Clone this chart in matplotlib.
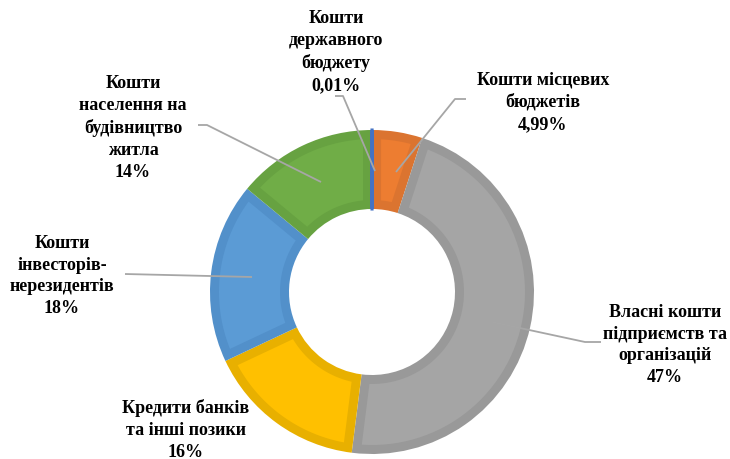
import matplotlib
matplotlib.use("Agg")
import numpy as np
from matplotlib import pyplot as plt
from matplotlib.patches import Polygon

# shares of investment sources, %, clockwise from 12 o'clock
categories = ["Кошти державного бюджету", "Кошти місцевих бюджетів",
              "Власні кошти підприємств та організацій",
              "Кредити банків та інші позики",
              "Кошти інвесторів-нерезидентів",
              "Кошти населення на будівництво житла"]
values = [0.01, 4.99, 47, 16, 18, 14]
label_texts = ["Кошти\nдержавного\nбюджету\n0,01%",
               "Кошти місцевих\nбюджетів\n4,99%",
               "Власні кошти\nпідприємств та\nорганізацій\n47%",
               "Кредити банків\nта інші позики\n16%",
               "Кошти\nінвесторів-\nнерезидентів\n18%",
               "Кошти\nнаселення на\nбудівництво\nжитла\n14%"]

fills = ["#4472C4", "#ED7D31", "#A5A5A5", "#FFC000", "#5B9BD5", "#70AD47"]
borders = ["#4472C4", "#DB7430", "#999999", "#E8B000", "#5290CA", "#67A241"]

W, H = 730, 460
def Y(y):
    # image pixel row -> data y
    return H - y

fig = plt.figure(figsize=(7.3, 4.6), dpi=100)
ax = fig.add_axes([0, 0, 1, 1])

cx, cy, r_out, r_in = 372, 293, 162, 83
b = 9  # border width in px

# darker ring = border colour, lighter inset = fill colour
wedges, _ = ax.pie(values, colors=borders, startangle=90, counterclock=False,
                   radius=r_out, center=(cx, Y(cy)),
                   wedgeprops=dict(width=r_out - r_in, linewidth=0))
ax.set_xlim(0, W)
ax.set_ylim(0, H)
ax.set_aspect("equal")
ax.axis("off")

for w, c in zip(wedges[1:], fills[1:]):
    ro, ri = r_out - b, r_in + b
    do, di = np.degrees(b / ro), np.degrees(b / ri)
    to = np.radians(np.linspace(w.theta1 + do, w.theta2 - do, 60))
    ti = np.radians(np.linspace(w.theta2 - di, w.theta1 + di, 60))
    xs = np.concatenate([cx + ro * np.cos(to), cx + ri * np.cos(ti)])
    ys = np.concatenate([Y(cy) + ro * np.sin(to), Y(cy) + ri * np.sin(ti)])
    ax.add_patch(Polygon(np.column_stack([xs, ys]), closed=True,
                         facecolor=c, edgecolor="none", zorder=2))

# the tiny state budget slice shows only as its outline
wedges[0].set_edgecolor(fills[0])
wedges[0].set_linewidth(2.2)
wedges[0].set_zorder(5)

# label centres (px) and leader lines
label_pos = [(336, 52), (543, 102), (665, 345), (186, 430), (62, 276), (133, 128)]
leaders = [[(335, 97), (343, 97), (375, 172)],
           [(466, 100), (455, 100), (396, 173)],
           [(601, 343), (585, 343), (492, 323)],
           None,
           [(125, 275), (252, 278)],
           [(198, 126), (207, 126), (321, 183)]]

for txt, (x, y) in zip(label_texts, label_pos):
    ax.text(x, Y(y), txt, ha="center", va="center", fontsize=13,
            fontweight="bold", family="Liberation Serif", linespacing=1.38,
            color="black", zorder=6)
for pts in leaders:
    if pts is None:
        continue
    xs = [p[0] for p in pts]
    ys = [Y(p[1]) for p in pts]
    ax.plot(xs, ys, color="#A6A6A6", lw=1.3, zorder=7, solid_capstyle="butt")

fig.savefig("out.png", dpi=100)
